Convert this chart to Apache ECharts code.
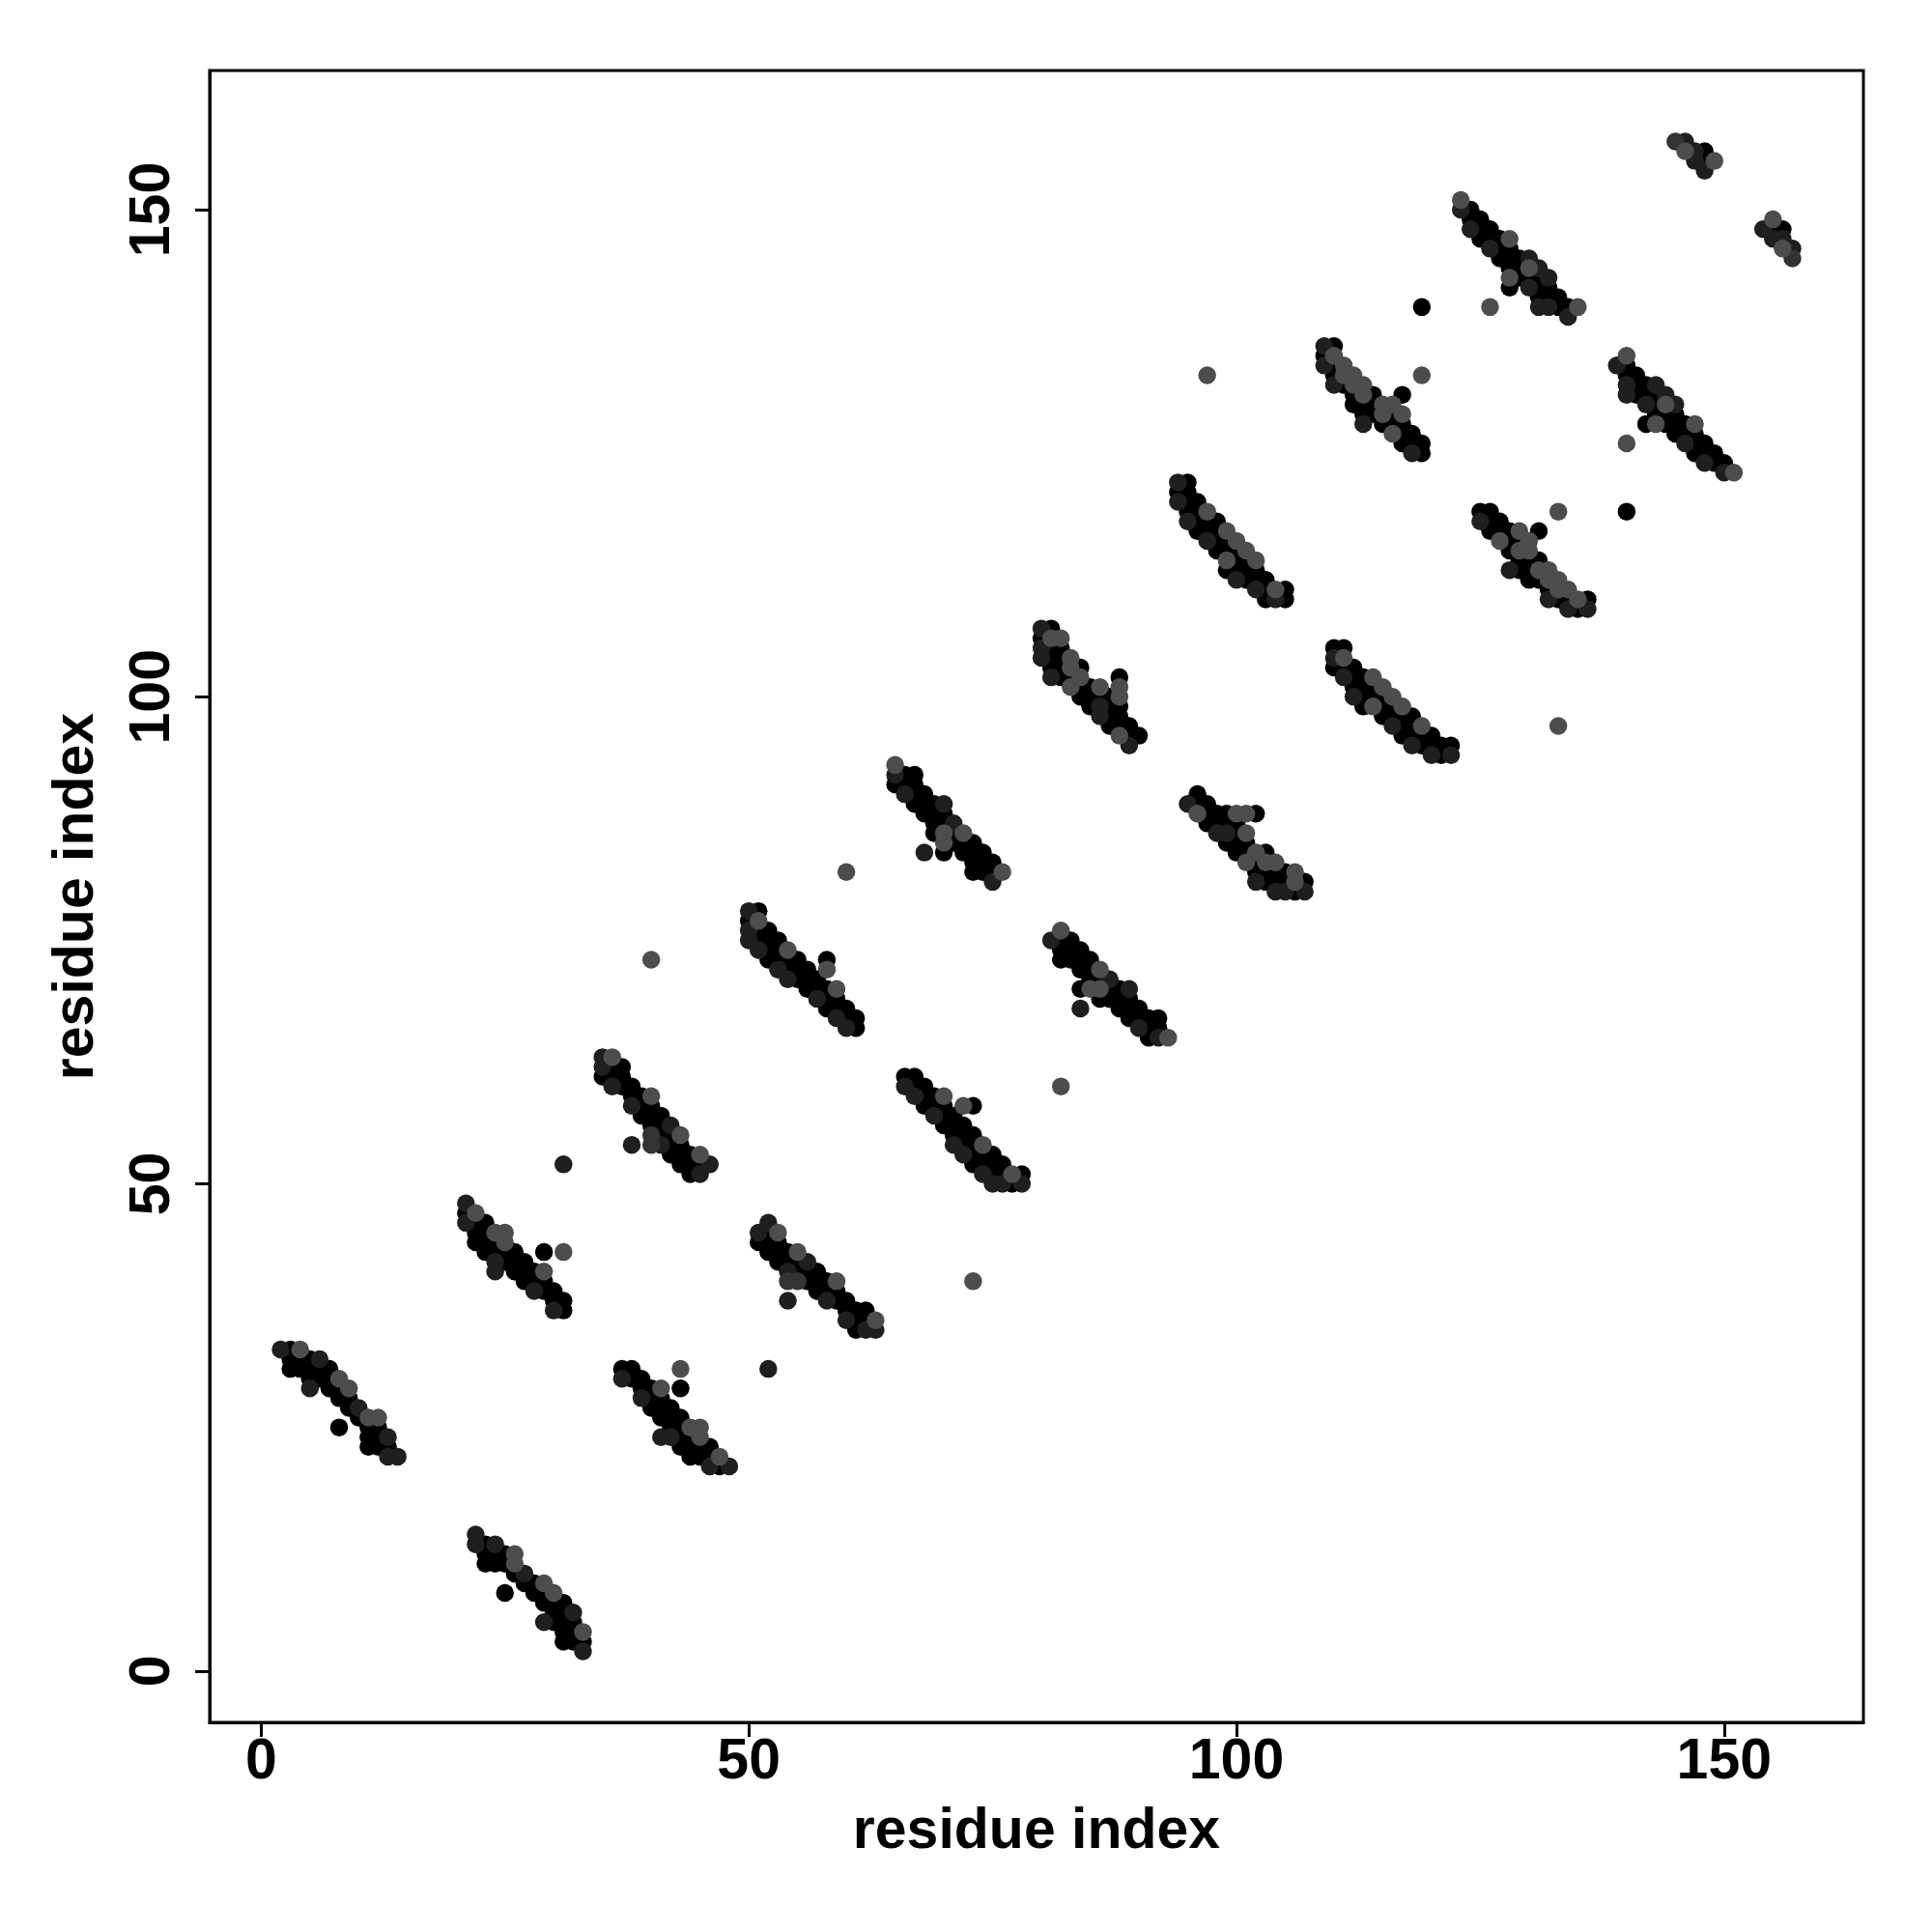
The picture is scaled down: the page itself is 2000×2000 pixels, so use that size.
<!DOCTYPE html>
<html>
<head>
<meta charset="utf-8">
<script src="https://cdn.jsdelivr.net/npm/echarts@6/dist/echarts.min.js"></script>
<style>
html,body{margin:0;padding:0;background:#ffffff;}
#chart{width:2000px;height:2000px;}
</style>
</head>
<body>
<div id="chart"></div>
<script>
// Residue-residue contact map (symmetric): each contact [i, j] (i < j) is drawn at (i, j) and (j, i).
const axisTicks = [0, 50, 100, 150];
const axisTitle = 'residue index';

const contactsBlack = [
  [3,33],[3,32],[4,32],[5,32],[3,31],[4,31],[5,31],[6,31],[7,31],[5,30],[6,30],[7,30],[7,29],[8,29],[8,28],[9,28],[9,27],[10,26],[11,25],[12,25],[11,24],[12,24],[12,23],[13,23],[8,25],[11,23],
  [21,47],[22,46],[23,46],[22,45],[23,45],[22,44],[23,44],[24,44],[23,43],[24,43],[25,43],[26,43],[25,42],[26,42],[27,42],[26,41],[27,41],[28,41],[27,40],[28,40],[29,40],[29,39],[30,39],[30,38],[31,38],[31,37],[29,43],
  [36,62],[37,62],[35,61],[36,61],[37,61],[37,60],[38,60],[38,59],[39,59],[39,58],[40,58],[39,57],[40,57],[41,57],[40,56],[41,56],[41,55],[42,55],[42,54],[43,54],[42,53],[43,53],[44,53],[43,52],[44,52],[45,52],[44,51],
  [51,78],[50,77],[51,76],[52,76],[51,75],[52,75],[53,75],[52,74],[53,74],[52,73],[53,73],[54,73],[55,73],[54,72],[55,72],[56,72],[55,71],[56,71],[57,71],[56,70],[57,70],[58,70],[58,69],[59,69],[58,68],[59,68],[60,68],[60,67],[61,67],[61,66],[58,73],
  [66,92],[67,92],[65,91],[66,91],[67,91],[67,90],[68,90],[67,89],[68,89],[69,89],[68,88],[69,88],[70,88],[69,87],[70,87],[69,86],[71,86],[71,85],[72,85],[73,85],[72,84],[73,84],[74,84],[73,83],[74,83],[75,83],[73,82],[74,82],[75,82],[70,84],
  [81,107],[80,106],[81,105],[82,105],[81,104],[82,104],[81,103],[82,103],[84,103],[82,102],[83,102],[84,101],[85,101],[84,100],[85,100],[86,100],[87,100],[85,99],[87,99],[87,98],[88,98],[87,97],[88,97],[89,97],[89,96],[90,96],[88,99],[88,102],
  [95,122],[94,121],[95,121],[95,120],[96,120],[95,119],[96,119],[96,118],[97,118],[98,118],[96,117],[97,117],[98,117],[98,116],[99,116],[98,115],[99,115],[100,115],[100,114],[101,114],[99,113],[100,113],[101,113],[102,113],[101,112],[102,112],[103,112],[103,111],[105,111],[103,110],[105,110],
  [110,136],[109,135],[110,134],[110,133],[111,132],[112,131],[114,131],[112,130],[113,130],[114,130],[113,129],[114,129],[116,129],[115,128],[116,128],[117,128],[117,127],[118,127],[117,126],[118,126],[119,126],[119,125],[117,131],
  [124,150],[124,149],[125,149],[125,148],[126,148],[125,147],[126,147],[127,147],[127,146],[128,146],[127,145],[128,145],[129,145],[128,144],[129,144],[129,143],[130,143],[131,143],[128,142],[131,142],[132,142],[131,141],[132,141],[133,141],[133,140],[134,140],
  [148,156],[148,155],
  [119,140]
];

const contactsDark = [
  [2,33],[6,32],[5,29],[10,27],[13,24],[13,22],[14,22],
  [21,48],[21,46],[24,42],[24,41],[28,39],[30,37],
  [35,63],[35,62],[36,60],[38,58],[42,56],[41,54],[46,52],[45,51],[38,54],
  [50,78],[50,76],[50,75],[51,74],[53,72],[54,71],[57,69],[59,67],[60,66],
  [65,92],[66,90],[70,89],[71,87],[75,81],[68,84],
  [80,107],[80,105],[80,104],[81,102],[86,99],[86,98],[89,95],
  [94,122],[94,120],[95,118],[97,116],[100,112],[102,111],[104,110],
  [109,136],[109,134],[110,132],[118,125],[113,128],
  [123,150],[124,148],[126,146],[130,145],[131,144],[132,143],[130,142],[131,140],[132,140],[134,139],
  [146,157],[147,156],[147,155],[148,154],
  [31,52]
];

const contactsMid = [
  [40,55],[40,54],
  [145,157]
];

const contactsGray = [
  [4,33],[8,30],[9,29],[11,26],[12,26],
  [22,47],[24,45],[25,45],[25,44],[29,41],[31,43],
  [36,63],[40,59],[43,55],[45,53],
  [51,77],[54,74],[59,70],[58,72],
  [65,93],[70,86],[72,86],[70,85],[76,82],
  [81,106],[82,106],[83,104],[83,103],[84,102],[83,101],[86,101],[88,96],[88,100],[88,101],
  [97,119],[99,117],[100,116],[101,115],[99,114],[102,114],[104,111],
  [110,135],[111,134],[111,133],[112,133],[112,132],[113,132],[113,131],[115,130],[116,130],[115,129],[117,129],[116,127],
  [123,151],[128,147],[130,144],[128,143],[135,140],
  [146,156],[149,155],
  [40,73],[60,82],[97,133],[119,133],[126,140]
];

function bothHalves(pairs) {
  const out = [];
  pairs.forEach(function (p) { out.push([p[0], p[1]]); out.push([p[1], p[0]]); });
  return out;
}

const FONT = 'Liberation Sans, Arial, Helvetica, sans-serif';
const chart = echarts.init(document.getElementById('chart'), null, {renderer: 'canvas', width: 2000, height: 2000});

function mkSeries(pairs, color) {
  return {
    type: 'scatter',
    data: bothHalves(pairs),
    symbol: 'circle',
    symbolSize: 18.5,
    itemStyle: {color: color, opacity: 1},
    silent: true
  };
}

function axis(extra) {
  return Object.assign({
    type: 'value',
    min: -5.28,
    max: 164.28,
    splitLine: {show: false},
    axisLine: {show: true, onZero: false, lineStyle: {color: '#000', width: 3}},
    axisTick: {show: true, inside: false, length: 15, customValues: axisTicks, lineStyle: {color: '#000', width: 3}},
    name: axisTitle,
    nameLocation: 'middle',
    nameTextStyle: {fontFamily: FONT, fontWeight: 'bold', fontSize: 59, color: '#000'}
  }, extra);
}

chart.setOption({
  animation: false,
  backgroundColor: '#ffffff',
  grid: {left: 217, right: 71, top: 73, bottom: 217, show: true, borderColor: '#000', borderWidth: 3, backgroundColor: 'transparent'},
  xAxis: axis({
    nameGap: 84,
    axisLabel: {customValues: axisTicks, margin: 12, fontFamily: FONT, fontWeight: 'bold', fontSize: 59, color: '#000'}
  }),
  yAxis: axis({
    nameGap: 108,
    nameRotate: 90,
    axisLabel: {customValues: axisTicks, rotate: 90, margin: 29, fontFamily: FONT, fontWeight: 'bold', fontSize: 59, color: '#000'}
  }),
  series: [
    mkSeries(contactsBlack, '#000000'),
    mkSeries(contactsDark, '#1f1f1f'),
    mkSeries(contactsMid, '#333333'),
    mkSeries(contactsGray, '#4d4d4d')
  ]
});
</script>
</body>
</html>
